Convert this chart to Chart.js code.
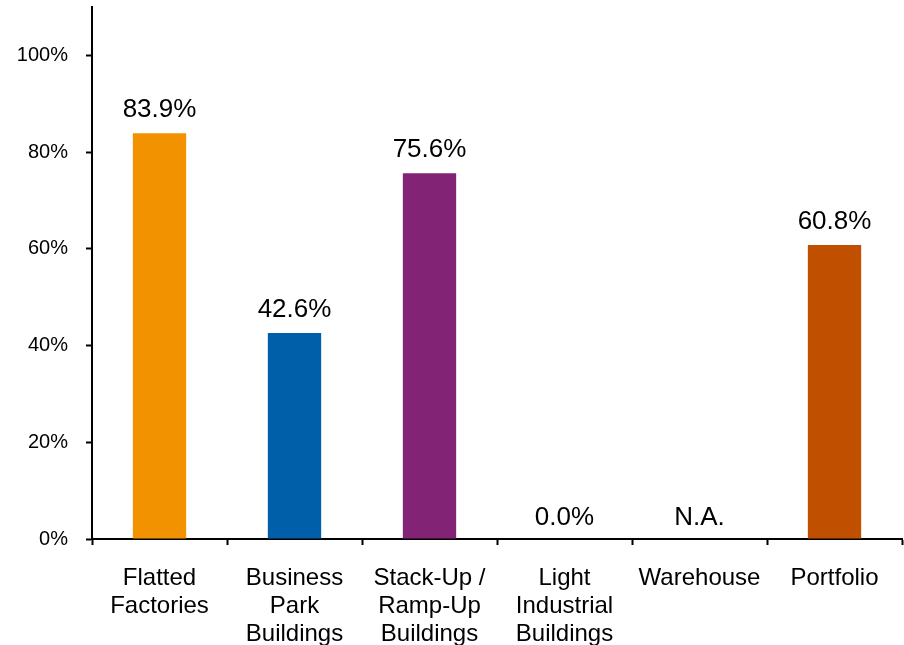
<!DOCTYPE html>
<html>
<head>
<meta charset="utf-8">
<script src="https://cdn.jsdelivr.net/npm/chart.js@4"></script>
<style>
  body { margin: 0; background: #fff; }
  canvas { display: block; }
</style>
</head>
<body>
<canvas id="chart" width="904" height="645"></canvas>
<script>
const categories = [
  ["Flatted", "Factories"],
  ["Business", "Park", "Buildings"],
  ["Stack-Up /", "Ramp-Up", "Buildings"],
  ["Light", "Industrial", "Buildings"],
  "Warehouse",
  "Portfolio"
];
const values = [83.9, 42.6, 75.6, 0, null, 60.8];
const valueLabels = ["83.9%", "42.6%", "75.6%", "0.0%", "N.A.", "60.8%"];
const barColors = ["#F29200", "#005FA9", "#832375", "#000000", "#000000", "#C04F00"];
const yTicks = [0, 20, 40, 60, 80, 100];

const FONT = "'Liberation Sans', Arial, sans-serif";

// value labels above each bar, N.A. sits on the baseline
const valueLabelPlugin = {
  id: "valueLabels",
  afterDatasetsDraw(chart) {
    const ctx = chart.ctx;
    const meta = chart.getDatasetMeta(0);
    const yScale = chart.scales.y;
    ctx.save();
    ctx.font = "26px " + FONT;
    ctx.fillStyle = "#000";
    ctx.textAlign = "center";
    ctx.textBaseline = "alphabetic";
    meta.data.forEach((el, i) => {
      const onBase = !values[i];
      const y = onBase ? yScale.getPixelForValue(0) - 14 : el.y - 16;
      ctx.fillText(valueLabels[i], el.x, y);
    });
    ctx.restore();
  }
};

new Chart(document.getElementById("chart"), {
  type: "bar",
  data: {
    labels: categories,
    datasets: [{
      data: values,
      backgroundColor: barColors,
      borderWidth: 0,
      categoryPercentage: 1,
      barPercentage: 0.395
    }]
  },
  options: {
    responsive: false,
    animation: false,
    layout: { padding: { top: 7, right: 2, left: 0, bottom: 0 } },
    plugins: {
      legend: { display: false },
      tooltip: { enabled: false }
    },
    scales: {
      x: {
        grid: {
          drawOnChartArea: false,
          offset: true,
          tickLength: 6,
          tickWidth: 2,
          color: "#000"
        },
        border: { color: "#000", width: 2 },
        ticks: {
          color: "#000",
          padding: 20,
          maxRotation: 0,
          autoSkip: false,
          font: { family: FONT, size: 24, lineHeight: 1.15 }
        },
        afterFit(scale) {
          scale.height = 106;
          scale.paddingLeft = 0;
          scale.paddingRight = 0;
        }
      },
      y: {
        min: 0,
        max: 110,
        grid: {
          drawOnChartArea: false,
          tickLength: 6,
          tickWidth: 2,
          color: "#000"
        },
        border: { color: "#000", width: 2 },
        ticks: {
          color: "#000",
          padding: 18,
          font: { family: FONT, size: 20 },
          callback: v => v + "%"
        },
        afterBuildTicks(scale) {
          scale.ticks = yTicks.map(v => ({ value: v }));
        },
        afterFit(scale) {
          scale.width = 92;
          scale.paddingTop = 0;
          scale.paddingBottom = 0;
        }
      }
    }
  },
  plugins: [valueLabelPlugin]
});
</script>
</body>
</html>
